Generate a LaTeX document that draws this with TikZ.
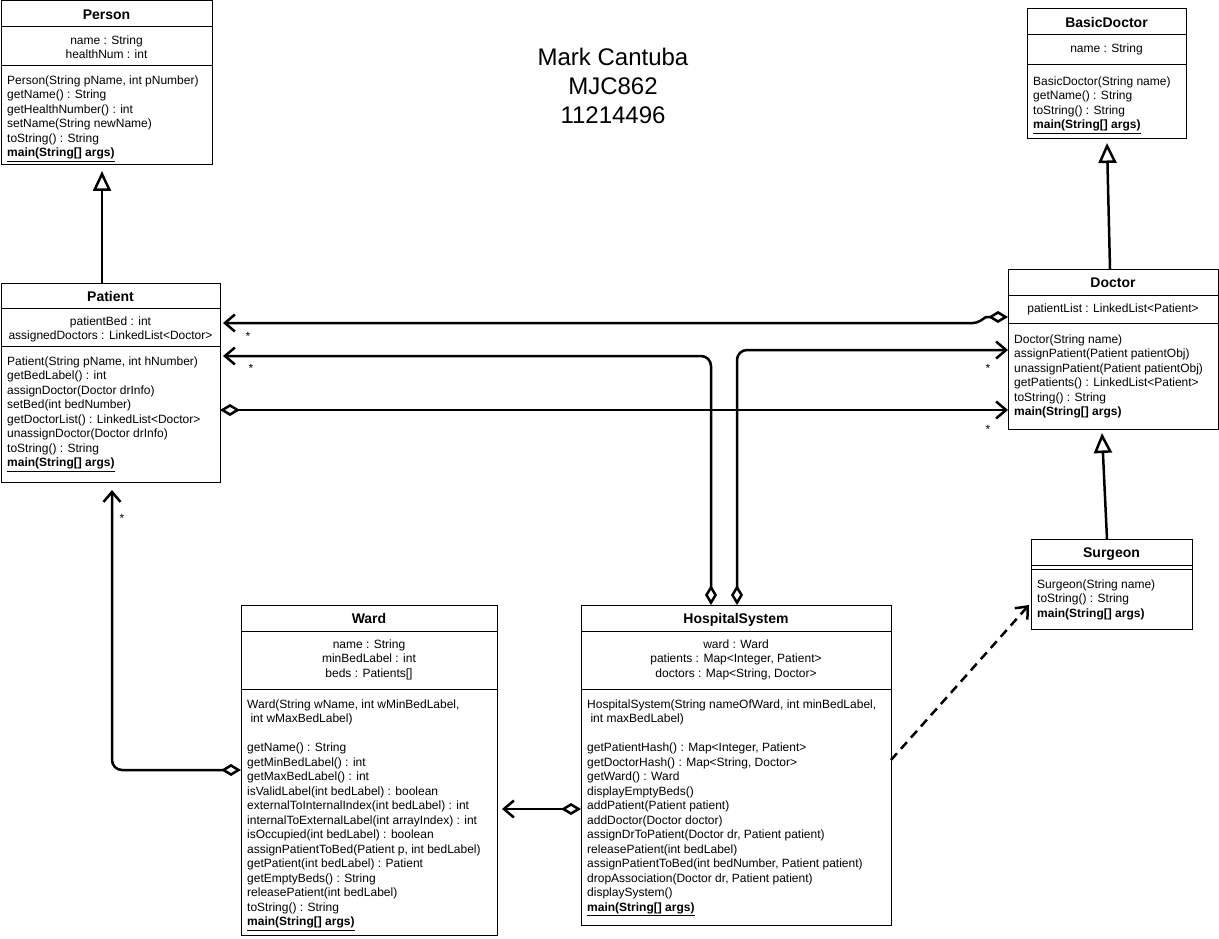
\documentclass[tikz,border=0pt]{standalone}
\usepackage{fontspec}
\setmainfont{Liberation Sans}
\usepackage{tikz}
\usetikzlibrary{positioning, arrows.meta, calc}
\newcommand{\mainsig}{\underline{\textbf{main(String[] args)}}}

\begin{document}
\begin{tikzpicture}[
  x=1pt, y=-1pt,
  cls/.style={draw, line width=1pt, anchor=north west, outer sep=0pt, inner sep=0pt},
  hd/.style={font=\fontsize{14}{17}\selectfont\bfseries, inner sep=0pt, text height=10.5pt, text depth=3pt},
  attr/.style={font=\fontsize{12}{14.5}\selectfont, align=center, anchor=north, inner sep=0pt},
  ops/.style={font=\fontsize{12}{14.5}\selectfont, align=left, anchor=north west, inner sep=0pt},
  sep/.style={line width=1pt},
  mult/.style={font=\fontsize{12}{14.5}\selectfont, inner sep=0pt},
  assoc/.style={line width=2.5pt, -{Straight Barb[length=10pt,width=17pt]}},
  agg/.style={assoc, {Diamond[fill=white,length=20pt,width=12pt]}-{Straight Barb[length=10pt,width=17pt]}},
  inh/.style={line width=2.5pt, -{Triangle[fill=white,length=20pt,width=18pt]}},
]
  \fill[white] (0,0) rectangle (1219,939);
  \useasboundingbox (0,0) rectangle (1219,939);

  \node[font=\fontsize{24}{29}\selectfont, align=center] (author) at (613,86)
    {Mark Cantuba\\MJC862\\11214496};

  \node[cls, minimum width=211, minimum height=164] (person) at (1,1) {};
  \node[hd] (person-name) at ($(person.north)+(0,15)$) {Person};
  \draw[sep] ($(person.north west)+(0,26)$) -- ($(person.north east)+(0,26)$);
  \node[attr] (person-attr) at ($(person.north)+(0,33)$)
    {\strut name : String\\healthNum : int};
  \draw[sep] ($(person.north west)+(0,65)$) -- ($(person.north east)+(0,65)$);
  \node[ops] (person-ops) at ($(person.north west)+(6,73)$)
    {\strut Person(String pName, int pNumber)\\getName() : String\\getHealthNumber() : int\\setName(String newName)\\toString() : String\\\mainsig};

  \node[cls, minimum width=219, minimum height=199] (patient) at (1,283) {};
  \node[hd] (patient-name) at ($(patient.north)+(0,15)$) {Patient};
  \draw[sep] ($(patient.north west)+(0,25)$) -- ($(patient.north east)+(0,25)$);
  \node[attr] (patient-attr) at ($(patient.north)+(0,32)$)
    {\strut patientBed : int\\assignedDoctors : LinkedList<Doctor>};
  \draw[sep] ($(patient.north west)+(0,63)$) -- ($(patient.north east)+(0,63)$);
  \node[ops] (patient-ops) at ($(patient.north west)+(6,72)$)
    {\strut Patient(String pName, int hNumber)\\getBedLabel() : int\\assignDoctor(Doctor drInfo)\\setBed(int bedNumber)\\getDoctorList() : LinkedList<Doctor>\\unassignDoctor(Doctor drInfo)\\toString() : String\\\mainsig};

  \node[cls, minimum width=159, minimum height=130] (basicdr) at (1027,9) {};
  \node[hd] (basicdr-name) at ($(basicdr.north)+(0,15)$) {BasicDoctor};
  \draw[sep] ($(basicdr.north west)+(0,26)$) -- ($(basicdr.north east)+(0,26)$);
  \node[attr] (basicdr-attr) at ($(basicdr.north)+(0,33)$) {\strut name : String};
  \draw[sep] ($(basicdr.north west)+(0,56)$) -- ($(basicdr.north east)+(0,56)$);
  \node[ops] (basicdr-ops) at ($(basicdr.north west)+(6,66)$)
    {\strut BasicDoctor(String name)\\getName() : String\\toString() : String\\\mainsig};

  \node[cls, minimum width=210, minimum height=160] (doctor) at (1008,269) {};
  \node[hd] (doctor-name) at ($(doctor.north)+(0,15)$) {Doctor};
  \draw[sep] ($(doctor.north west)+(0,26)$) -- ($(doctor.north east)+(0,26)$);
  \node[attr] (doctor-attr) at ($(doctor.north)+(0,33)$) {\strut patientList : LinkedList<Patient>};
  \draw[sep] ($(doctor.north west)+(0,54)$) -- ($(doctor.north east)+(0,54)$);
  \node[ops] (doctor-ops) at ($(doctor.north west)+(6,64)$)
    {\strut Doctor(String name)\\assignPatient(Patient patientObj)\\unassignPatient(Patient patientObj)\\getPatients() : LinkedList<Patient>\\toString() : String\\\textbf{main(String[] args)}};

  \node[cls, minimum width=161, minimum height=90] (surgeon) at (1031,539) {};
  \node[hd] (surgeon-name) at ($(surgeon.north)+(0,15)$) {Surgeon};
  \draw[sep] ($(surgeon.north west)+(0,26)$) -- ($(surgeon.north east)+(0,26)$);
  \draw[sep] ($(surgeon.north west)+(0,30)$) -- ($(surgeon.north east)+(0,30)$);
  \node[ops] (surgeon-ops) at ($(surgeon.north west)+(6,39)$)
    {\strut Surgeon(String name)\\toString() : String\\\textbf{main(String[] args)}};

  \node[cls, minimum width=256, minimum height=330] (ward) at (241,605) {};
  \node[hd] (ward-name) at ($(ward.north)+(0,15)$) {Ward};
  \draw[sep] ($(ward.north west)+(0,26)$) -- ($(ward.north east)+(0,26)$);
  \node[attr] (ward-attr) at ($(ward.north)+(0,33)$)
    {\strut name : String\\minBedLabel : int\\beds : Patients[]};
  \draw[sep] ($(ward.north west)+(0,84)$) -- ($(ward.north east)+(0,84)$);
  \node[ops] (ward-ops) at ($(ward.north west)+(6,93)$)
    {\strut Ward(String wName, int wMinBedLabel,\\~int wMaxBedLabel)\\[14.5pt]getName() : String\\getMinBedLabel() : int\\getMaxBedLabel() : int\\isValidLabel(int bedLabel) : boolean\\externalToInternalIndex(int bedLabel) : int\\internalToExternalLabel(int arrayIndex) : int\\isOccupied(int bedLabel) : boolean\\assignPatientToBed(Patient p, int bedLabel)\\getPatient(int bedLabel) : Patient\\getEmptyBeds() : String\\releasePatient(int bedLabel)\\toString() : String\\\mainsig};

  \node[cls, minimum width=310, minimum height=320] (hospsys) at (581,605) {};
  \node[hd] (hospsys-name) at ($(hospsys.north)+(0,15)$) {HospitalSystem};
  \draw[sep] ($(hospsys.north west)+(0,26)$) -- ($(hospsys.north east)+(0,26)$);
  \node[attr] (hospsys-attr) at ($(hospsys.north)+(0,33)$)
    {\strut ward : Ward\\patients : Map<Integer, Patient>\\doctors : Map<String, Doctor>};
  \draw[sep] ($(hospsys.north west)+(0,84)$) -- ($(hospsys.north east)+(0,84)$);
  \node[ops] (hospsys-ops) at ($(hospsys.north west)+(6,93)$)
    {\strut HospitalSystem(String nameOfWard, int minBedLabel,\\~int maxBedLabel)\\[14.5pt]getPatientHash() : Map<Integer, Patient>\\getDoctorHash() : Map<String, Doctor>\\getWard() : Ward\\displayEmptyBeds()\\addPatient(Patient patient)\\addDoctor(Doctor doctor)\\assignDrToPatient(Doctor dr, Patient patient)\\releasePatient(int bedLabel)\\assignPatientToBed(int bedNumber, Patient patient)\\dropAssociation(Doctor dr, Patient patient)\\displaySystem()\\\mainsig};

  \draw[inh] ($(patient.north west)+(101,0)$) -- ($(person.south west)+(101,6)$);
  \draw[inh] ($(doctor.north west)+(102,0)$) -- ($(basicdr.south west)+(80,4)$);
  \draw[inh] ($(surgeon.north west)+(76,0)$) -- ($(doctor.south west)+(94,4)$);

  \draw[agg] ($(doctor.north west)+(0,48)$) -- ++(-22,0) [rounded corners=4pt] -- ++(-9,6) -- ($(patient.north east)+(3,40)$);
  \draw[agg, rounded corners=10pt] ($(hospsys.north west)+(130,0)$) |- ($(patient.north east)+(3,73)$);
  \draw[agg, rounded corners=10pt] ($(hospsys.north west)+(156,0)$) |- ($(doctor.north west)+(0,81)$);
  \draw[agg] ($(patient.north east)+(0,127)$) -- ($(doctor.north west)+(0,141)$);
  \draw[agg, rounded corners=10pt] ($(ward.north west)+(0,165)$) -| ($(patient.south west)+(111,8)$);
  \draw[agg] ($(hospsys.north west)+(0,204)$) -- ($(ward.north east)+(5,204)$);
  \draw[assoc, dash pattern=on 9pt off 6pt] ($(hospsys.north east)+(0,155)$) -- ($(surgeon.north west)+(-2,66)$);

  \node[mult] (m-docpat) at ($(patient.north east)+(28,53)$) {*};
  \node[mult] (m-hospat) at ($(patient.north east)+(31,85)$) {*};
  \node[mult] (m-hosdoc) at ($(doctor.north west)+(-20,99)$) {*};
  \node[mult] (m-patdoc) at ($(doctor.north west)+(-20,160)$) {*};
  \node[mult] (m-wardpat) at ($(patient.south west)+(121,36)$) {*};
\end{tikzpicture}
\end{document}
